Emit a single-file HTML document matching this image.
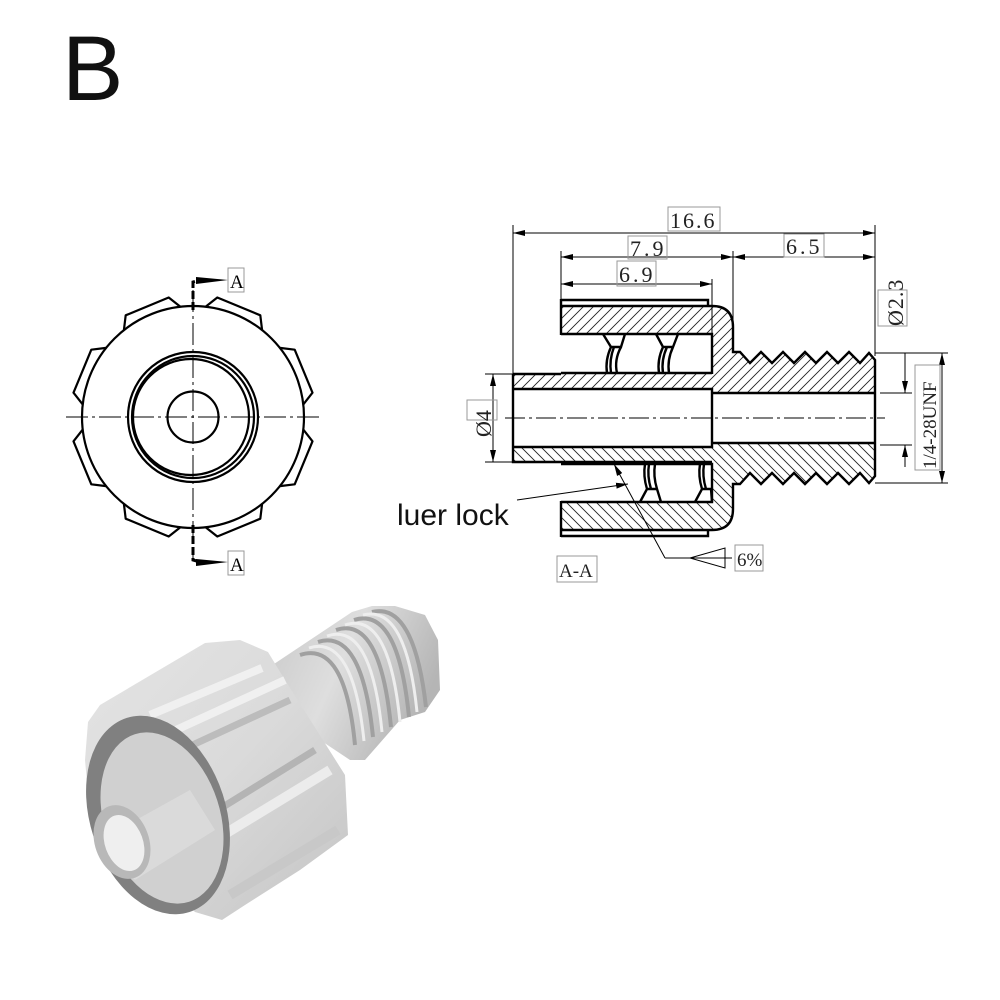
<!DOCTYPE html>
<html><head><meta charset="utf-8"><style>
html,body{margin:0;padding:0;background:#fff;}
svg{display:block}
</style></head><body>
<svg width="1000" height="1000" viewBox="0 0 1000 1000" xmlns="http://www.w3.org/2000/svg" font-family="'Liberation Serif', serif">
<defs>
<pattern id="h1" patternUnits="userSpaceOnUse" width="10" height="10">
<path d="M-2,12 L12,-2 M-2,2 L2,-2 M8,12 L12,8" stroke="#222" stroke-width="0.9"/>
</pattern>
<marker id="ar" viewBox="0 0 12 6" refX="12" refY="3" markerWidth="12" markerHeight="6" orient="auto" markerUnits="userSpaceOnUse">
<path d="M0,0 L12,3 L0,6 Z" fill="#000"/>
</marker>
<linearGradient id="gb" x1="0" y1="0" x2="1" y2="1">
<stop offset="0" stop-color="#e4e4e4"/><stop offset="0.5" stop-color="#dadada"/><stop offset="1" stop-color="#c4c4c4"/>
</linearGradient>
<linearGradient id="gt" x1="0" y1="0" x2="1" y2="0.4">
<stop offset="0" stop-color="#c8c8c8"/><stop offset="0.5" stop-color="#dedede"/><stop offset="1" stop-color="#b5b5b5"/>
</linearGradient>
</defs>

<text x="62" y="100" font-family="'Liberation Sans', sans-serif" font-size="92" fill="#111">B</text>

<!-- FRONT VIEW -->
<g stroke="#000" fill="none" stroke-width="2.2" stroke-linejoin="round">
<path d="M205.6,306.7 L217.3,297.5 L260.3,315.3 L262.1,330.1
M303.3,404.4 L312.5,392.7 L294.7,349.7 L279.9,347.9
M303.3,429.6 L312.5,441.3 L294.7,484.3 L279.9,486.1
M205.6,527.3 L217.3,536.5 L260.3,518.7 L262.1,503.9
M180.4,527.3 L168.7,536.5 L125.7,518.7 L123.9,503.9
M82.7,429.6 L73.5,441.3 L91.3,484.3 L106.1,486.1
M82.7,404.4 L73.5,392.7 L91.3,349.7 L106.1,347.9
M180.4,306.7 L168.7,297.5 L125.7,315.3 L123.9,330.1"/>
<circle cx="193" cy="417" r="111"/>
<circle cx="193" cy="417" r="65"/>
<circle cx="193" cy="417" r="61"/>
<circle cx="191" cy="417" r="58"/>
<circle cx="193" cy="417" r="25.5"/>
</g>
<g stroke="#000" stroke-width="1" stroke-dasharray="22,4,3,4">
<line x1="66" y1="417" x2="320" y2="417"/>
<line x1="193" y1="290" x2="193" y2="560"/>
</g>
<g stroke="#000" stroke-width="3" fill="none">
<path d="M193,310 L193,282 L200,280" stroke-dasharray="8,3"/>
<path d="M193,525 L193,560 L200,562" stroke-dasharray="8,3"/>
</g>
<path d="M196,277 L228,280 L196,284 Z" fill="#000"/>
<path d="M196,559 L228,562 L196,566 Z" fill="#000"/>
<rect x="228" y="268" width="16" height="24" fill="none" stroke="#999"/>
<text x="230" y="288" font-size="19">A</text>
<rect x="228" y="551" width="16" height="24" fill="none" stroke="#999"/>
<text x="230" y="571" font-size="19">A</text>

<!-- SECTION VIEW -->
<path fill="url(#h1)" stroke="none" d="M561,306 L712,306 Q733,306 733,327 L733,352 L740,352 L750,363 L761,352 L772,363 L783,352 L794,363 L805,352 L816,363 L827,352 L838,363 L849,352 L860,363 L869,353 L875,360 L875,393 L712,393 L712,389 L513,389 L513,374 L712,374 L712,334 L561,334 Z"/>
<path fill="url(#h1)" stroke="none" transform="matrix(1 0 0 -1 0 836)" d="M561,306 L712,306 Q733,306 733,327 L733,352 L740,352 L750,363 L761,352 L772,363 L783,352 L794,363 L805,352 L816,363 L827,352 L838,363 L849,352 L860,363 L869,353 L875,360 L875,393 L712,393 L712,389 L513,389 L513,374 L712,374 L712,334 L561,334 Z"/>
<g stroke="#000" stroke-width="2.4" fill="none">
<path d="M561,306 L712,306 Q733,306 733,327 L733,352 L740,352 L750,363 L761,352 L772,363 L783,352 L794,363 L805,352 L816,363 L827,352 L838,363 L849,352 L860,363 L869,353 L875,360 L875,476 L869,483 L860,473 L849,484 L838,473 L827,484 L816,473 L805,484 L794,473 L783,484 L772,473 L761,484 L750,473 L740,484 L733,484 L733,509 Q733,530 712,530 L561,530"/>
<line x1="561" y1="299" x2="561" y2="335"/>
<line x1="561" y1="501" x2="561" y2="537"/>
<path d="M561,300 L708,300 L708,306 M561,536 L708,536 L708,530"/>
<path d="M561,334 L712,334 L712,374 M561,373 L712,373"/>
<path d="M561,464 L712,464 L712,502 L561,502"/>
<path d="M513,374 L561,374 M513,374 L513,462 L712,462 M513,389 L712,389 L712,447 L513,447"/>
<path d="M712,393 L875,393 M712,443 L875,443"/>
<path d="M603,334 L611,347 L621,347 L625,334 M611,347 Q605,360 607,373 M614,347 Q609,360 611,373 M621,347 Q614,360 617,373"/>
<path d="M656,334 L663,347 L673,347 L678,334 M663,347 Q657,360 659,373 M667,347 Q661,360 663,373 M673,347 Q667,360 669,373"/>
<path d="M640,502 L647,489 L657,489 L661,502 M647,489 Q643,476 645,464 M651,489 Q647,476 649,464 M657,489 Q653,476 655,464"/>
<path d="M695,502 L702,489 L711,489 L712,502 M702,489 Q698,476 700,464 M706,489 Q702,476 704,464"/>
</g>
<line x1="505" y1="418" x2="885" y2="418" stroke="#000" stroke-width="1" stroke-dasharray="20,4,3,4"/>

<g stroke="#000" stroke-width="1" fill="none">
<line x1="513" y1="225" x2="513" y2="374"/>
<line x1="875" y1="225" x2="875" y2="356"/>
<line x1="561" y1="251" x2="561" y2="300"/>
<line x1="712" y1="279" x2="712" y2="335"/>
<line x1="733" y1="251" x2="733" y2="352"/>
<line x1="513" y1="233" x2="875" y2="233" marker-end="url(#ar)"/>
<line x1="875" y1="233" x2="513" y2="233" marker-end="url(#ar)"/>
<line x1="561" y1="257" x2="733" y2="257" marker-end="url(#ar)"/>
<line x1="733" y1="257" x2="561" y2="257" marker-end="url(#ar)"/>
<line x1="733" y1="257" x2="875" y2="257" marker-end="url(#ar)"/>
<line x1="875" y1="257" x2="733" y2="257" marker-end="url(#ar)"/>
<line x1="561" y1="284" x2="712" y2="284" marker-end="url(#ar)"/>
<line x1="712" y1="284" x2="561" y2="284" marker-end="url(#ar)"/>
<line x1="485" y1="374" x2="513" y2="374"/>
<line x1="485" y1="462" x2="513" y2="462"/>
<line x1="493" y1="374" x2="493" y2="462" marker-end="url(#ar)"/>
<line x1="493" y1="462" x2="493" y2="374" marker-end="url(#ar)"/>
<line x1="880" y1="393" x2="912" y2="393"/>
<line x1="880" y1="445" x2="912" y2="445"/>
<line x1="905" y1="353" x2="905" y2="393" marker-end="url(#ar)"/>
<line x1="905" y1="467" x2="905" y2="445" marker-end="url(#ar)"/>
<line x1="875" y1="353" x2="948" y2="353"/>
<line x1="875" y1="483" x2="948" y2="483"/>
<line x1="942" y1="353" x2="942" y2="483" marker-end="url(#ar)"/>
<line x1="942" y1="483" x2="942" y2="353" marker-end="url(#ar)"/>
<line x1="517" y1="500" x2="628" y2="484" marker-end="url(#ar)"/>
<polyline points="665,558 730,558"/>
<line x1="665" y1="558" x2="614" y2="464" marker-end="url(#ar)"/>
<path d="M690,558 L725,548 L725,568 Z M725,558 L732,558"/>
</g>
<g fill="none" stroke="#999" stroke-width="1">
<rect x="668" y="207" width="52" height="24"/>
<rect x="628" y="236" width="39" height="23"/>
<rect x="784" y="234" width="40" height="23"/>
<rect x="617" y="261" width="39" height="25"/>
<rect x="467" y="400" width="30" height="20"/>
<rect x="878" y="290" width="29" height="36"/>
<rect x="915" y="365" width="25" height="105"/>
<rect x="735" y="545" width="28" height="26"/>
<rect x="557" y="556" width="40" height="26"/>
</g>
<g font-size="22" fill="#222">
<text x="670" y="228" letter-spacing="2">16.6</text>
<text x="630" y="256" letter-spacing="3">7.9</text>
<text x="786" y="254" letter-spacing="3">6.5</text>
<text x="619" y="282" letter-spacing="3">6.9</text>
<text transform="translate(491,437) rotate(-90)">Ø4</text>
<text transform="translate(903,326) rotate(-90)" letter-spacing="1">Ø2.3</text>
<text transform="translate(936,469) rotate(-90)" font-size="19">1/4-28UNF</text>
<text x="737" y="566" font-size="19">6%</text>
<text x="559" y="577" font-size="19">A-A</text>
</g>
<text x="397" y="525" font-family="'Liberation Sans', sans-serif" font-size="30" fill="#111">luer lock</text>

<!-- 3D RENDER -->
<g>
<path d="M265,670 L352,612 L372,606 L395,606 L425,615 L438,640 L440,690 L425,712 L400,720 L365,760 L350,760 L320,740 Z" fill="url(#gt)"/>
<g stroke="#a0a0a0" stroke-width="4" fill="none">
<path d="M300,655 Q345,640 355,745"/>
<path d="M318,642 Q362,628 373,737"/>
<path d="M336,630 Q380,615 391,727"/>
<path d="M354,620 Q398,606 409,717"/>
<path d="M372,612 Q414,602 426,707"/>
</g>
<g stroke="#eeeeee" stroke-width="3" fill="none">
<path d="M309,648 Q353,634 364,741"/>
<path d="M327,636 Q371,621 382,732"/>
<path d="M345,625 Q389,610 400,722"/>
<path d="M363,615 Q406,604 417,712"/>
</g>
<path d="M88,722 L100,705 L205,643 L240,640 L268,652 L285,680 L345,775 L348,835 L300,870 L245,905 L222,920 L195,912 L165,885 L110,855 L90,815 L85,760 Z" fill="url(#gb)"/>
<path d="M150,715 L262,668 M165,735 L285,680" stroke="#f0f0f0" stroke-width="8"/>
<path d="M160,760 L290,700" stroke="#bcbcbc" stroke-width="7"/>
<path d="M210,815 L315,750" stroke="#b4b4b4" stroke-width="7"/>
<path d="M215,840 L330,770" stroke="#ececec" stroke-width="10"/>
<path d="M230,895 L338,830" stroke="#c8c8c8" stroke-width="10"/>
<ellipse cx="158" cy="815" rx="68" ry="102" transform="rotate(-18 158 815)" fill="#808080"/>
<ellipse cx="162" cy="818" rx="58" ry="88" transform="rotate(-18 162 818)" fill="#d0d0d0"/>
<path d="M100,840 L190,790 L215,830 L135,880 Z" fill="#dadada"/>
<ellipse cx="122" cy="842" rx="27" ry="38" transform="rotate(-20 122 842)" fill="#b8b8b8"/>
<ellipse cx="124" cy="843" rx="19" ry="29" transform="rotate(-20 124 843)" fill="#efefef"/>
</g>
</svg>
</body></html>
